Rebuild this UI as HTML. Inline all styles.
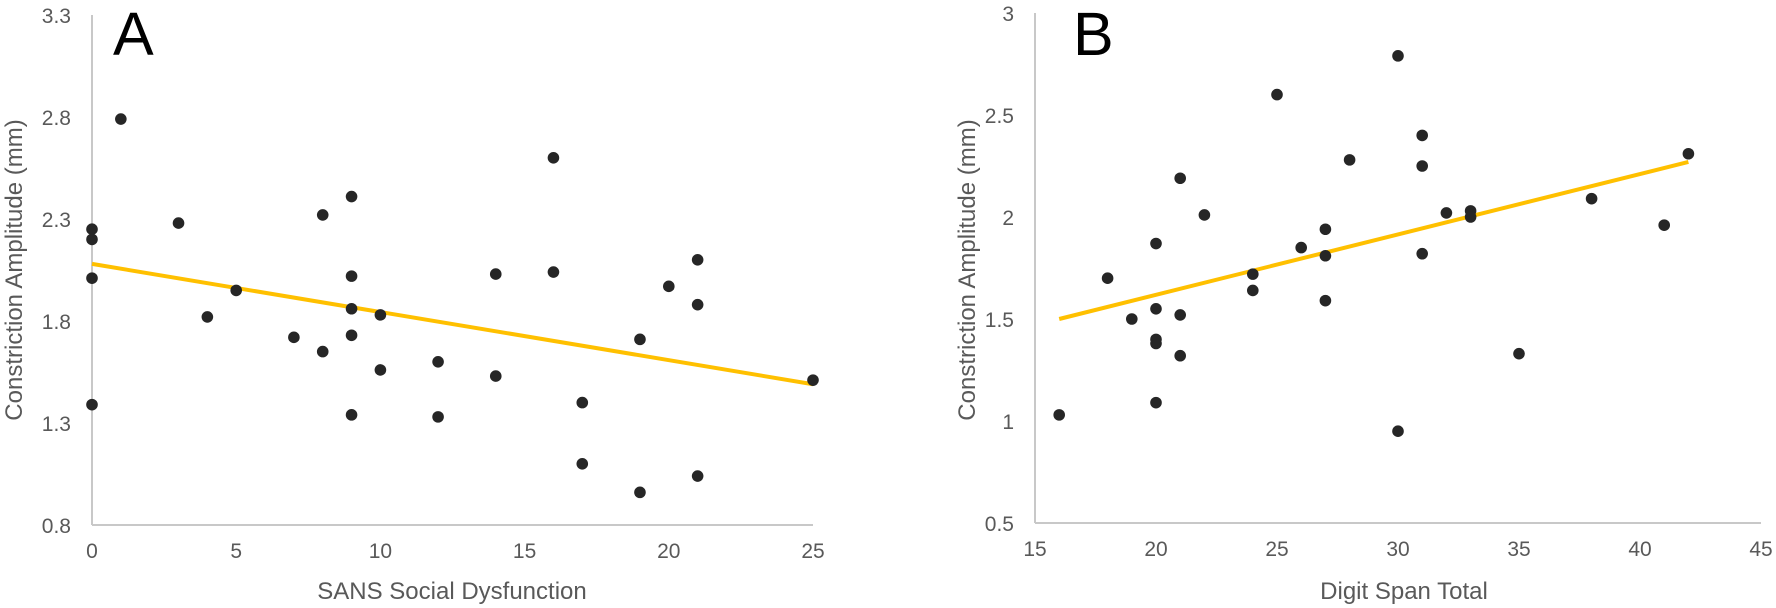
<!DOCTYPE html>
<html><head><meta charset="utf-8">
<style>
html,body{margin:0;padding:0;background:#fff;}
svg{display:block;font-family:"Liberation Sans",sans-serif;}
</style></head>
<body>
<svg id="chart" width="1776" height="608" viewBox="0 0 1776 608"></svg>
<script>
const aX = [0,0,0,0,1,3,4,5,7,8,8,9,9,9,9,9,10,10,12,12,14,14,16,16,17,17,19,19,20,21,21,21,25];
const aY = [2.25,2.20,2.01,1.39,2.79,2.28,1.82,1.95,1.72,2.32,1.65,2.41,2.02,1.86,1.73,1.34,1.83,1.56,1.60,1.33,2.03,1.53,2.60,2.04,1.40,1.10,1.71,0.96,1.97,2.10,1.88,1.04,1.51];
const aTrend = [[0,2.08],[25,1.49]];
const aXTicks = [0,5,10,15,20,25];
const aYTicks = ["0.8","1.3","1.8","2.3","2.8","3.3"];

const bX = [16,18,19,20,20,20,20,20,21,21,21,22,24,24,25,26,27,27,27,28,30,30,31,31,31,32,33,33,35,38,41,42];
const bY = [1.03,1.70,1.50,1.87,1.55,1.40,1.38,1.09,2.19,1.52,1.32,2.01,1.72,1.64,2.60,1.85,1.94,1.81,1.59,2.28,2.79,0.95,2.40,2.25,1.82,2.02,2.03,2.00,1.33,2.09,1.96,2.31];
const bTrend = [[16,1.50],[42,2.27]];
const bXTicks = [15,20,25,30,35,40,45];
const bYTicks = ["0.5","1","1.5","2","2.5","3"];

const NS = "http://www.w3.org/2000/svg";
const svg = document.getElementById('chart');
function mk(tag, attrs, parent){
  const e = document.createElementNS(NS, tag);
  for (const k in attrs) e.setAttribute(k, attrs[k]);
  (parent||svg).appendChild(e);
  return e;
}

function panel(cfg){
  const g = mk('g', {});
  
  
  const sx = v => cfg.x0 + (v - cfg.xmin) / (cfg.xmax - cfg.xmin) * (cfg.x1 - cfg.x0);
  const sy = v => cfg.y0 - (v - cfg.ymin) / (cfg.ymax - cfg.ymin) * (cfg.y0 - cfg.y1);
  const ya = mk('line', {x1:cfg.x0, y1:cfg.y0, x2:cfg.x0, y2:cfg.y1, stroke:'#c8c8c8', 'stroke-width':2}, g);
  
  
  const xa = mk('line', {x1:cfg.x0, y1:cfg.y0, x2:cfg.x1, y2:cfg.y0, stroke:'#c8c8c8', 'stroke-width':2}, g);
  
  
  cfg.xticks.forEach(t => {
    const e = mk('text', {x:sx(t), y:cfg.y0+33, 'text-anchor':'middle', 'font-size':21, fill:'#595959'}, g);
    e.textContent = t;
    
    
  });
  cfg.yticks.forEach(t => {
    const e = mk('text', {x:cfg.x0-21, y:sy(parseFloat(t))+8, 'text-anchor':'end', 'font-size':21, fill:'#595959'}, g);
    e.textContent = t;
    
    
  });
  const tl = mk('line', {x1:sx(cfg.trend[0][0]), y1:sy(cfg.trend[0][1]), x2:sx(cfg.trend[1][0]), y2:sy(cfg.trend[1][1]), stroke:'#FFC000', 'stroke-width':4}, g);
  
  
  cfg.xs.forEach((v,i) => {
    const c = mk('circle', {cx:sx(v), cy:sy(cfg.ys[i]), r:5.8, fill:'#262626'}, g);
    
    
  });
  const yt = mk('text', {x:0, y:0, transform:`translate(${cfg.ytx},${cfg.yty}) rotate(-90)`, 'text-anchor':'middle', 'font-size':24, fill:'#595959'}, g);
  yt.textContent = 'Constriction Amplitude (mm)';
  
  
  const xt = mk('text', {x:cfg.xtx, y:599, 'text-anchor':'middle', 'font-size':24, fill:'#595959'}, g);
  xt.textContent = cfg.xtitle;
  
  
  const lb = mk('text', {x:cfg.lx, y:55, 'font-size':61, fill:'#000'}, g);
  lb.textContent = cfg.letter;
  
  
}

panel({name:'panel-a', x0:92, x1:813, xmin:0, xmax:25, y0:525, y1:15, ymin:0.8, ymax:3.3,
  xs:aX, ys:aY, trend:aTrend, xticks:aXTicks, yticks:aYTicks,
  ytx:22, yty:270, xtx:452, xtitle:'SANS Social Dysfunction', letter:'A', lx:113});
panel({name:'panel-b', x0:1035, x1:1761, xmin:15, xmax:45, y0:523, y1:13, ymin:0.5, ymax:3,
  xs:bX, ys:bY, trend:bTrend, xticks:bXTicks, yticks:bYTicks,
  ytx:975, yty:270, xtx:1404, xtitle:'Digit Span Total', letter:'B', lx:1073});
</script>
</body></html>
